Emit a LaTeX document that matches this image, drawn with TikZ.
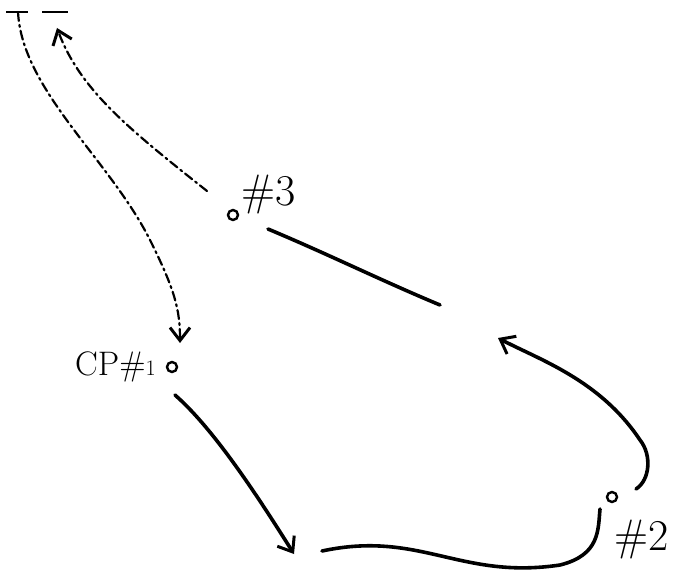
\documentclass[tikz,border=0pt]{standalone}
\usepackage{fontspec}
\usepackage{tikz}
\usetikzlibrary{arrows.meta,positioning,calc}

\begin{document}
\begin{tikzpicture}[
    x=1pt, y=-1pt,
    pt/.style={circle, draw, line width=2.4pt, inner sep=0pt, minimum size=10pt},
    lbl/.style={font=\fontsize{44}{44}\selectfont, inner sep=0pt},
    stroke/.style={line width=3.6pt, line cap=round},
    trail/.style={line width=2.2pt, dash pattern=on 9pt off 4pt on 2pt off 4pt, line cap=round},
    arr/.style={-{Straight Barb[length=13pt, width=20pt, line width=3pt]}},
    bar/.style={line width=2.4pt}
]
    \useasboundingbox (0,0) rectangle (676,577);

    % points
    \node [pt] (n1) at (172,367) {};
    \node [pt] (n2) at (612,497) {};
    \node [pt] (n3) at (233,215) {};

    \node [lbl, left=10pt of n1, font=\fontsize{34}{34}\selectfont] (l1) {CP\#{\fontsize{22}{22}\selectfont 1}};
    \node [lbl, above right=-4pt and 4pt of n3] (l3) {\#3};
    \node [lbl, below right=18pt and -2pt of n2] (l2) {\#2};

    % free ends
    \coordinate (t1) at (18,12);
    \coordinate (t2) at (55,12);
    \coordinate (g1) at (440,305);
    \coordinate (g2) at (498,338);
    \coordinate (g3) at (294,554);
    \coordinate (g4) at (322,551);

    % bars at top
    \draw [bar] (6,12) -- (28,12);
    \draw [bar] (42,12) -- (68,12);

    % dash-dot trails
    \draw [trail, arr] (t1) .. controls (22,90) and (110,160) .. (150,240)
        .. controls (175,290) and (180,310) .. ($(n1)+(8,-24)$);
    \draw [trail, arr] ($(n3)+(-26,-24)$) .. controls (130,130) and (80,90) .. ($(t2)+(2,16)$);

    % solid strokes
    \draw [stroke] ($(n3)+(35,14)$) .. controls (330,255) and (380,280) .. (g1);
    \draw [stroke, arr] ($(n1)+(3,28)$) .. controls (215,430) and (260,500) .. (g3);
    \draw [stroke] (g4) .. controls (420,530) and (460,580) .. (560,565)
        .. controls (600,555) and (598,530) .. ($(n2)+(-12,12)$);
    \draw [stroke, arr] ($(n2)+(24,-8)$) .. controls (650,480) and (652,455) .. (640,440)
        .. controls (600,380) and (540,360) .. (g2);
\end{tikzpicture}
\end{document}
